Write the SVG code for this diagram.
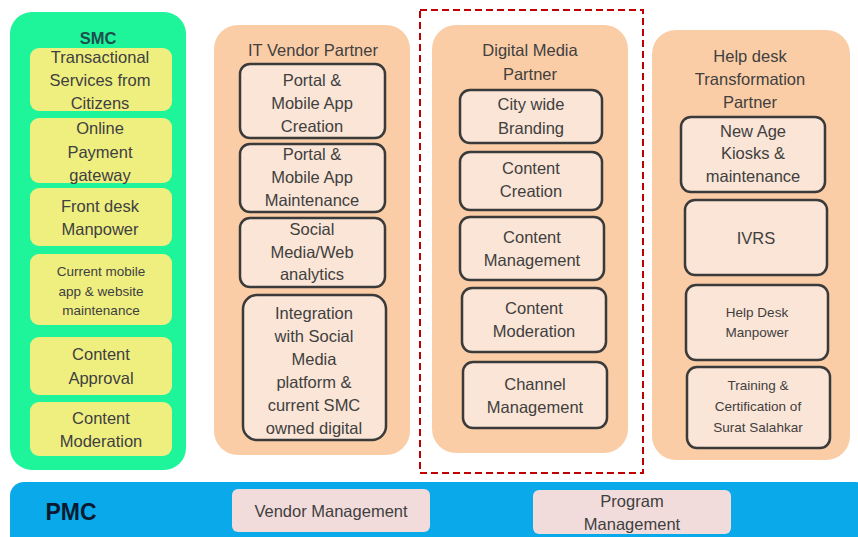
<svg xmlns="http://www.w3.org/2000/svg" width="858" height="537" viewBox="0 0 858 537">
<style>
text{font-family:"Liberation Sans",Arial,sans-serif;fill:#404040;text-anchor:middle;dominant-baseline:central;font-size:16.5px}
.sm{font-size:13.5px}
.outer{fill:#fbcda6}
.box{fill:#fbe5d6;stroke:#3a3a3a;stroke-width:2.5}
.ybox{fill:#efef80}
.pbox{fill:#f2dcdb}
</style>
<rect width="858" height="537" fill="#ffffff"/>
<g id="smc">
<rect x="10" y="12" width="176" height="458" rx="22" fill="#1ef59a"/>
<text x="98" y="38" style="font-weight:bold;fill:#1f4e4f;font-size:16.5px">SMC</text>
<rect class="ybox" x="30" y="48" width="142" height="63" rx="9"/>
<text x="100" y="57">Transactional</text><text x="100" y="80">Services from</text><text x="100" y="103">Citizens</text>
<rect class="ybox" x="30" y="118" width="142" height="65" rx="9"/>
<text x="100" y="128">Online</text><text x="100" y="152">Payment</text><text x="100" y="175">gateway</text>
<rect class="ybox" x="30" y="188" width="142" height="58" rx="9"/>
<text x="100" y="206">Front desk</text><text x="100" y="229">Manpower</text>
<rect class="ybox" x="30" y="254" width="142" height="71" rx="9"/>
<text class="sm" x="101" y="271">Current mobile</text><text class="sm" x="101" y="291">app &amp; website</text><text class="sm" x="101" y="310">maintenance</text>
<rect class="ybox" x="30" y="337" width="142" height="58" rx="9"/>
<text x="101" y="354">Content</text><text x="101" y="378">Approval</text>
<rect class="ybox" x="30" y="402" width="142" height="54" rx="9"/>
<text x="101" y="418">Content</text><text x="101" y="441">Moderation</text>
</g>
<g id="it-vendor">
<rect class="outer" x="214" y="25" width="196" height="430" rx="24"/>
<text x="313" y="50">IT Vendor Partner</text>
<rect class="box" x="240" y="64" width="145" height="74" rx="10"/>
<text x="312" y="80">Portal &amp;</text><text x="312" y="103">Mobile App</text><text x="312" y="126">Creation</text>
<rect class="box" x="240" y="144" width="145" height="68" rx="10"/>
<text x="312" y="154">Portal &amp;</text><text x="312" y="177">Mobile App</text><text x="312" y="200">Maintenance</text>
<rect class="box" x="240" y="218" width="145" height="69" rx="10"/>
<text x="312" y="229">Social</text><text x="312" y="252">Media/Web</text><text x="312" y="274">analytics</text>
<rect class="box" x="243" y="295" width="143" height="145" rx="14"/>
<text x="314" y="313">Integration</text><text x="314" y="336">with Social</text><text x="314" y="359">Media</text><text x="314" y="382">platform &amp;</text><text x="314" y="405">current SMC</text><text x="314" y="428">owned digital</text>
</g>
<g id="digital-media">
<rect x="420" y="10" width="223" height="463" fill="none" stroke="#c00000" stroke-width="2" stroke-dasharray="7,4"/>
<rect class="outer" x="432" y="25" width="196" height="428" rx="24"/>
<text x="530" y="50">Digital Media</text><text x="530" y="74">Partner</text>
<rect class="box" x="460" y="90" width="142" height="53" rx="10"/>
<text x="531" y="104">City wide</text><text x="531" y="128">Branding</text>
<rect class="box" x="460" y="152" width="142" height="58" rx="10"/>
<text x="531" y="168">Content</text><text x="531" y="191">Creation</text>
<rect class="box" x="460" y="217" width="144" height="63" rx="10"/>
<text x="532" y="237">Content</text><text x="532" y="260">Management</text>
<rect class="box" x="462" y="288" width="144" height="64" rx="10"/>
<text x="534" y="308">Content</text><text x="534" y="331">Moderation</text>
<rect class="box" x="463" y="362" width="144" height="66" rx="10"/>
<text x="535" y="384">Channel</text><text x="535" y="407">Management</text>
</g>
<g id="help-desk">
<rect class="outer" x="652" y="30" width="198" height="430" rx="24"/>
<text x="750" y="56">Help desk</text><text x="750" y="79">Transformation</text><text x="750" y="102">Partner</text>
<rect class="box" x="681" y="117" width="144" height="75" rx="10"/>
<text x="753" y="131">New Age</text><text x="753" y="153">Kiosks &amp;</text><text x="753" y="176">maintenance</text>
<rect class="box" x="685" y="200" width="142" height="75" rx="10"/>
<text x="756" y="238">IVRS</text>
<rect class="box" x="686" y="285" width="142" height="75" rx="10"/>
<text class="sm" x="757" y="312">Help Desk</text><text class="sm" x="757" y="332">Manpower</text>
<rect class="box" x="687" y="367" width="143" height="81" rx="10"/>
<text class="sm" x="758" y="385">Training &amp;</text><text class="sm" x="758" y="406">Certification of</text><text class="sm" x="758" y="427">Surat Salahkar</text>
</g>
<g id="pmc">
<rect x="10" y="482" width="860" height="70" rx="14" fill="#0aaaea"/>
<text x="71" y="512" style="font-weight:bold;font-size:23px;fill:#0a1a30">PMC</text>
<rect class="pbox" x="232" y="489" width="198" height="43" rx="6"/>
<text x="331" y="511">Vendor Management</text>
<rect class="pbox" x="533" y="490" width="198" height="44" rx="6"/>
<text x="632" y="501">Program</text><text x="632" y="524">Management</text>
</g>
<g id="connectors"></g>
</svg>
